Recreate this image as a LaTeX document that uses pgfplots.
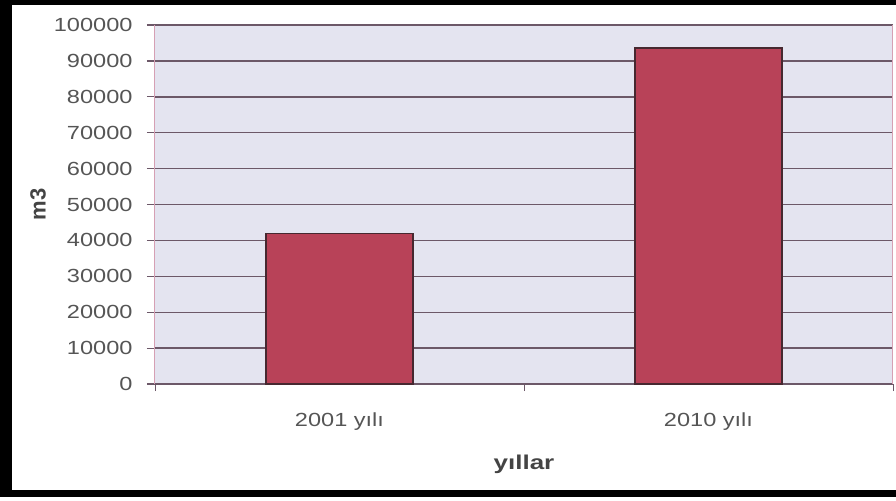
\documentclass[border=0pt]{standalone}
\usepackage{fontspec}
\setmainfont{Liberation Sans}
\usepackage{pgfplots}
\pgfplotsset{compat=1.18}

\definecolor{plotbg}{RGB}{228,228,240}
\definecolor{gridc}{RGB}{108,88,104}
\definecolor{edgec}{RGB}{214,160,180}
\definecolor{barfill}{RGB}{184,66,88}
\definecolor{barline}{RGB}{70,40,48}
\definecolor{labelc}{RGB}{85,85,85}
\definecolor{titlec}{RGB}{68,68,68}

\begin{document}
\begin{tikzpicture}
\useasboundingbox (0pt,0pt) rectangle (448pt,250pt);
% black frame round the chart
\fill[black] (0pt,1.5pt) rectangle (6pt,250pt);
\fill[black] (0pt,247.5pt) rectangle (448pt,250pt);
\fill[black] (0pt,1.5pt) rectangle (448pt,5pt);
\begin{axis}[
  at={(77.5pt,58pt)}, anchor=south west,
  scale only axis, width=369pt, height=179.5pt,
  ymin=0, ymax=100000,
  ytick={0,10000,...,100000},
  scaled y ticks=false,
  /pgf/number format/assume math mode=true,
  yticklabel={\pgfmathprintnumber[fixed,1000 sep={}]{\tick}},
  xmin=-0.5, xmax=1.5,
  xtick={0,1}, xticklabels={2001 yılı, 2010 yılı},
  minor xtick={-0.5,0.5,1.5},
  every major x tick/.append style={draw=none},
  minor x tick style={gridc},
  major y tick style={gridc, line width=0.6pt},
  tick align=outside,
  major tick length=4pt, minor tick length=3.5pt,
  axis x line*=bottom, axis y line*=left,
  every outer x axis line/.append style={-, gridc, line width=0.75pt},
  every outer y axis line/.append style={-, edgec, line width=0.5pt},
  axis background/.style={fill=plotbg},
  ymajorgrids,
  major grid style={gridc, line width=0.7pt},
  yticklabel style={font=\fontsize{9.5}{11}\selectfont, color=labelc,
    anchor=east, inner sep=0pt, xshift=-7pt, xscale=1.24},
  xticklabel style={font=\fontsize{9.5}{11}\selectfont, color=labelc,
    anchor=base, inner sep=0pt, yshift=-17pt, xscale=1.24},
  ylabel={m3},
  xlabel={yıllar},
  every axis y label/.style={at={(rel axis cs:0,0.5)}, xshift=-58.5pt,
    rotate=90, anchor=center, font=\bfseries\fontsize{11}{13}\selectfont,
    color=titlec},
  every axis x label/.style={at={(rel axis cs:0.5,0)}, yshift=-40pt,
    anchor=center, font=\bfseries\fontsize{10}{12}\selectfont,
    color=titlec, xscale=1.3},
  ybar, bar width=0.4,
  clip=false,
  after end axis/.code={
    \draw[edgec, line width=0.5pt] (rel axis cs:1,0) -- (rel axis cs:1,1);
  },
]
\addplot[fill=barfill, draw=barline, line width=0.9pt]
  coordinates {(0,41900) (1,93500)};
\end{axis}
\end{tikzpicture}
\end{document}
